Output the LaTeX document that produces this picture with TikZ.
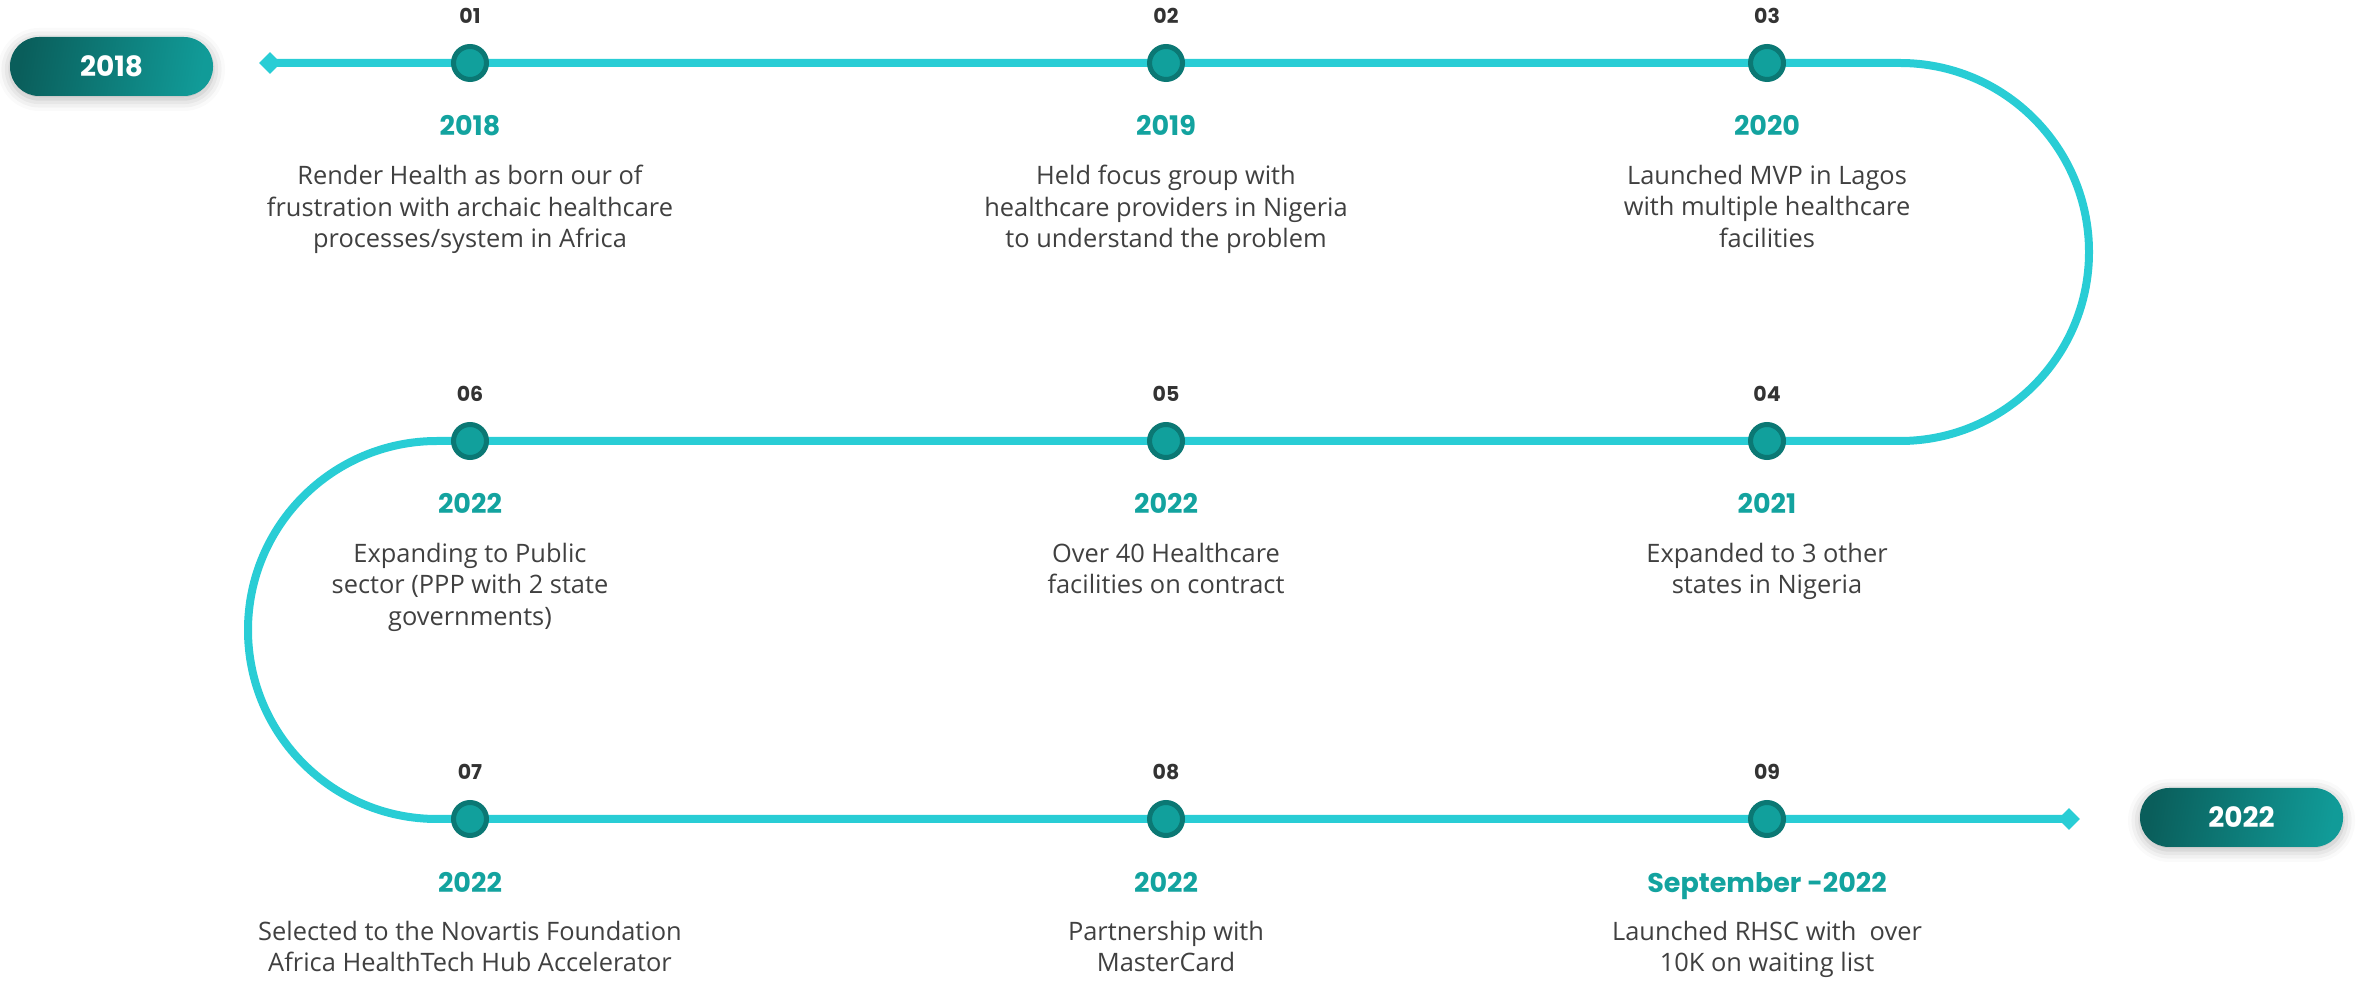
\documentclass[tikz,border=0pt]{standalone}
\usepackage{fontspec}
\setmainfont{Open Sans}
\newfontfamily\popf{Poppins}
\usetikzlibrary{shapes.geometric,shadows.blur}
\definecolor{lineC}{HTML}{29CDD5}
\definecolor{ringC}{HTML}{0B7874}
\definecolor{dotC}{HTML}{11A09C}
\definecolor{yearC}{HTML}{13A39F}
\definecolor{numC}{HTML}{333333}
\definecolor{descC}{HTML}{404040}
\definecolor{pillA}{HTML}{0A5E5B}
\definecolor{pillB}{HTML}{119B98}
\tikzset{
  tl/.style={draw=lineC, line width=8pt},
  dot/.style={circle, draw=ringC, line width=5pt, fill=dotC, minimum size=33pt, inner sep=0pt},
  numlbl/.style={font=\popf\bfseries\fontsize{20.5}{22}\selectfont, text=numC, anchor=base, inner sep=0pt},
  yearlbl/.style={font=\popf\bfseries\fontsize{27}{30}\selectfont, text=yearC, anchor=base, inner sep=0pt},
  desc/.style={font=\fontsize{25.4}{31.5}\selectfont, text=descC, align=center, anchor=north, inner sep=0pt},
  pill/.style={rounded corners=29pt, minimum width=203pt, minimum height=59pt, left color=pillA, right color=pillB, shading angle=80, text=white, font=\popf\bfseries\fontsize{28}{30}\selectfont, blur shadow={shadow xshift=0pt, shadow yshift=-3pt, shadow blur radius=12pt, shadow opacity=30}},
  tip/.style={diamond, fill=lineC, minimum size=22pt, inner sep=0pt},
}
\begin{document}
\begin{tikzpicture}[x=1pt,y=1pt]
\useasboundingbox (0,0) rectangle (2366,980);
% pills
\node[pill] (p1) at (111.5,913.5) {2018};
\node[pill] (p2) at (2241.5,162.5) {2022};
% timeline
\node[tip] (s) at (270,917) {};
\node[tip] (e) at (2069,161) {};
\coordinate (r1e) at (1900,917);
\coordinate (r2e) at (437,539);
\draw[tl] (s.center) -- (r1e) arc[start angle=90, end angle=-90, radius=189] -- (r2e) arc[start angle=90, end angle=270, radius=189] -- (e.center);
% row 1
\foreach \n/\x/\num/\yr/\txt in {
  a/470/01/2018/{Render Health as born our of\\frustration with archaic healthcare\\processes/system in Africa},
  b/1166/02/2019/{Held focus group with\\healthcare providers in Nigeria\\to understand the problem},
  c/1767/03/2020/{Launched MVP in Lagos\\with multiple healthcare\\facilities}}{
  \node[dot] (\n) at (\x,917) {};
  \node[numlbl] (\n num) at (\x,956) {\num};
  \node[yearlbl] (\n yr) at (\x,844) {\yr};
  \node[desc] (\n txt) at (\x,815) {\txt};
}
% row 2
\foreach \n/\x/\num/\yr/\txt in {
  f/470/06/2022/{Expanding to Public\\sector (PPP with 2 state\\governments)},
  g/1166/05/2022/{Over 40 Healthcare\\facilities on contract},
  h/1767/04/2021/{Expanded to 3 other\\states in Nigeria}}{
  \node[dot] (\n) at (\x,539) {};
  \node[numlbl] (\n num) at (\x,578) {\num};
  \node[yearlbl] (\n yr) at (\x,466) {\yr};
  \node[desc] (\n txt) at (\x,437) {\txt};
}
% row 3
\foreach \n/\x/\num/\yr/\txt in {
  i/470/07/2022/{Selected to the Novartis Foundation\\Africa HealthTech Hub Accelerator},
  j/1166/08/2022/{Partnership with\\MasterCard},
  k/1767/09/{September -2022}/{Launched RHSC with\ \ over\\10K on waiting list}}{
  \node[dot] (\n) at (\x,161) {};
  \node[numlbl] (\n num) at (\x,200) {\num};
  \node[yearlbl] (\n yr) at (\x,88) {\yr};
  \node[desc] (\n txt) at (\x,59) {\txt};
}
\end{tikzpicture}
\end{document}
